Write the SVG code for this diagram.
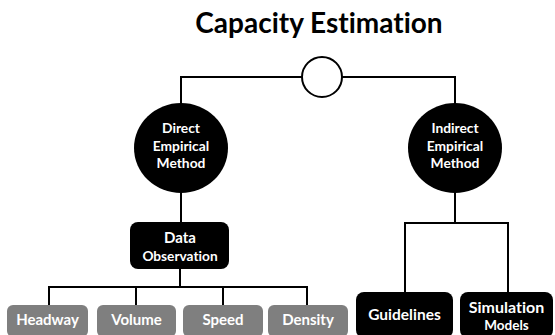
<svg xmlns="http://www.w3.org/2000/svg" width="555" height="335" viewBox="0 0 555 335">
<style>
.t{font-family:Lato,"Open Sans","Liberation Sans",sans-serif;font-weight:bold;fill:#fff;text-anchor:middle;font-variant-ligatures:none}
.c{stroke:#000;stroke-width:2;fill:none}
.blk{fill:#000}
.gry{fill:#7f7f7f}
</style>
<rect width="555" height="335" fill="#fff"/>
<text x="319" y="33" font-family="Lato,'Open Sans',sans-serif" font-weight="bold" font-size="28" text-anchor="middle" fill="#000" style="font-variant-ligatures:none">Capacity Estimation</text>
<g id="connectors" class="c">
<polyline points="181,104 181,77 455,77 455,104"/>
<line x1="181" y1="190" x2="181" y2="224"/>
<polyline points="49,306 49,287 307,287 307,306"/>
<line x1="180" y1="268" x2="180" y2="287"/>
<line x1="136" y1="287" x2="136" y2="306"/>
<line x1="223" y1="287" x2="223" y2="306"/>
<line x1="455" y1="190" x2="455" y2="223"/>
<polyline points="405,293 405,223 508,223 508,293"/>
</g>
<g id="root"><circle cx="322" cy="77" r="20" fill="#fff" stroke="#000" stroke-width="2"/></g>
<g id="direct"><ellipse cx="181" cy="148" rx="47" ry="45" class="blk"/>
<text class="t" font-size="13.8"><tspan x="181" y="133">Direct</tspan><tspan x="181" y="151">Empirical</tspan><tspan x="181" y="168">Method</tspan></text></g>
<g id="indirect"><ellipse cx="455" cy="148" rx="47" ry="45" class="blk"/>
<text class="t" font-size="13.8"><tspan x="455" y="133">Indirect</tspan><tspan x="455" y="151">Empirical</tspan><tspan x="455" y="168">Method</tspan></text></g>
<g id="data"><rect x="130" y="222" width="99" height="47" rx="8" class="blk"/>
<text class="t"><tspan x="180" y="243" font-size="15">Data</tspan><tspan x="180" y="261" font-size="13.7">Observation</tspan></text></g>
<g id="headway"><rect x="7" y="305" width="81" height="32" rx="6" class="gry"/><text class="t" x="47.5" y="325" font-size="15">Headway</text></g>
<g id="volume"><rect x="97" y="305" width="79" height="32" rx="6" class="gry"/><text class="t" x="136.5" y="325" font-size="15">Volume</text></g>
<g id="speed"><rect x="183" y="305" width="80" height="32" rx="6" class="gry"/><text class="t" x="223" y="325" font-size="15">Speed</text></g>
<g id="density"><rect x="268" y="305" width="80" height="32" rx="6" class="gry"/><text class="t" x="308" y="325" font-size="15">Density</text></g>
<g id="guidelines"><rect x="356" y="292" width="97" height="46" rx="8" class="blk"/><text class="t" x="404.5" y="320" font-size="15.5">Guidelines</text></g>
<g id="simulation"><rect x="460" y="292" width="93" height="46" rx="8" class="blk"/>
<text class="t"><tspan x="506.5" y="313" font-size="16">Simulation</tspan><tspan x="506.5" y="330" font-size="13.5">Models</tspan></text></g>
</svg>
